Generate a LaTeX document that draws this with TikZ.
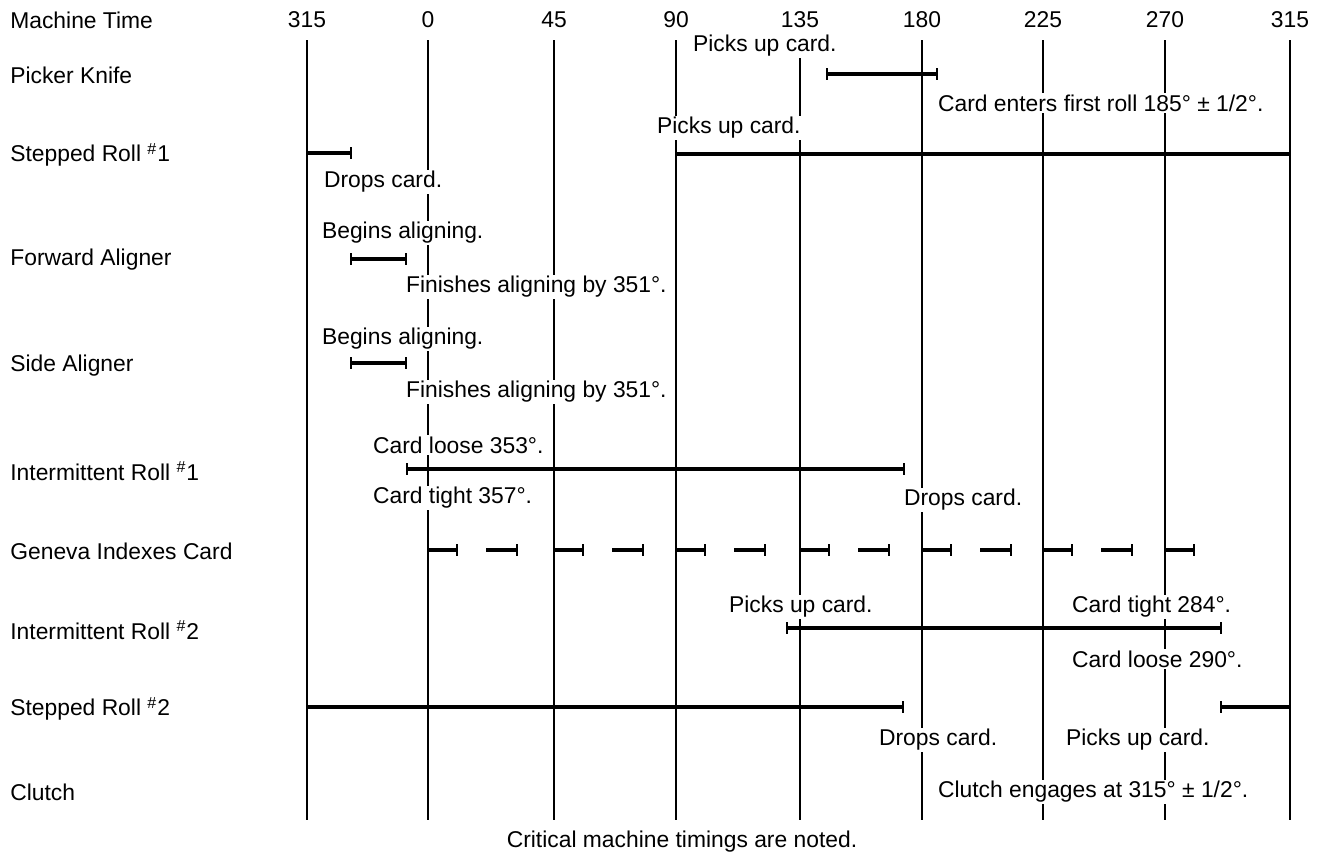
\documentclass[tikz,border=0pt]{standalone}
\usepackage{fontspec}
\setmainfont{Liberation Sans}
\usetikzlibrary{positioning}
\newcommand\stoptick[2]{\draw[tk] (#1,#2) ++(0,-6) -- ++(0,12);}
\begin{document}
\begin{tikzpicture}[x=0.02cm, y=-0.02cm, font=\fontsize{13}{15}\selectfont,
  grid/.style={line width=0.8pt},
  bar/.style={line width=2.4pt},
  tk/.style={line width=1pt},
  lbl/.style={anchor=west, inner sep=0pt},
  note/.style={anchor=west, fill=white, inner sep=1pt}]
\useasboundingbox (0,0) rectangle (1318,853);
% time lines
\foreach \x/\d [count=\i] in {307/315,428/0,554/45,676/90,800/135,922/180,1043/225,1165/270,1290/315}{
  \draw[grid] (\x,40) coordinate (t\i) -- (\x,820) coordinate (b\i);
  \node[inner sep=0pt] (d\i) at (\x,20) {\d};
}
% row names
\node[lbl] (mt)  at (10,20)  {Machine Time};
\node[lbl] (pk)  at (10,75)  {Picker Knife};
\node[lbl] (sr1) at (10,155) {Stepped Roll \textsuperscript{\#}1};
\node[lbl] (fa)  at (10,260) {Forward Aligner};
\node[lbl] (sa)  at (10,366) {Side Aligner};
\node[lbl] (ir1) at (10,471) {Intermittent Roll \textsuperscript{\#}1};
\node[lbl] (gi)  at (10,551) {Geneva Indexes Card};
\node[lbl] (ir2) at (10,630) {Intermittent Roll \textsuperscript{\#}2};
\node[lbl] (sr2) at (10,709) {Stepped Roll \textsuperscript{\#}2};
\node[lbl] (cl)  at (10,792) {Clutch};
% picker knife
\draw[bar] (827,74) -- (937,74);
\stoptick{827}{74} \stoptick{937}{74}
% stepped roll 1
\draw[bar] (307,153) -- (351,153); \stoptick{351}{153}
\draw[bar] (676,154) -- (1290,154);
% aligners
\foreach \y in {259,363}{
  \draw[bar] (351,\y) -- (406,\y);
  \stoptick{351}{\y} \stoptick{406}{\y}
}
% intermittent roll 1
\draw[bar] (407,469) -- (904,469);
\stoptick{407}{469} \stoptick{904}{469}
% geneva
\foreach \x in {428,554,676,800,922,1043,1165}{
  \draw[bar] (\x,550) -- ++(29,0); \stoptick{\x+29}{550}
}
\foreach \x in {428,554,676,800,922,1043}{
  \draw[bar] (\x+58,550) -- (\x+89,550); \stoptick{\x+89}{550}
}
% intermittent roll 2
\draw[bar] (787,628) -- (1221,628);
\stoptick{787}{628} \stoptick{1221}{628}
% stepped roll 2
\draw[bar] (307,707) -- (903,707); \stoptick{903}{707}
\draw[bar] (1221,707) -- (1290,707); \stoptick{1221}{707}
% notes
\node[note] (n1)  at (691,46)  {Picks up card.};
\node[note] (n2)  at (936,103) {Card enters first roll 185° ± 1/2°.};
\node[note] (n3)  at (655,128) {Picks up card.};
\node[note] (n4)  at (322,182) {Drops card.};
\node[note] (n5)  at (320,233) {Begins aligning.};
\node[note] (n6)  at (404,287) {Finishes aligning by 351°.};
\node[note] (n7)  at (320,339) {Begins aligning.};
\node[note] (n8)  at (404,392) {Finishes aligning by 351°.};
\node[note] (n9)  at (371,445) {Card loose 353°.};
\node[note] (n10) at (371,498) {Card tight 357°.};
\node[note] (n11) at (902,500) {Drops card.};
\node[note] (n12) at (727,607) {Picks up card.};
\node[note] (n13) at (1070,607) {Card tight 284°.};
\node[note] (n14) at (1070,659) {Card loose 290°.};
\node[note] (n15) at (877,740) {Drops card.};
\node[note] (n16) at (1064,740) {Picks up card.};
\node[note] (n17) at (936,792) {Clutch engages at 315° ± 1/2°.};
\node (cap) at (682,842) {Critical machine timings are noted.};
\end{tikzpicture}
\end{document}
